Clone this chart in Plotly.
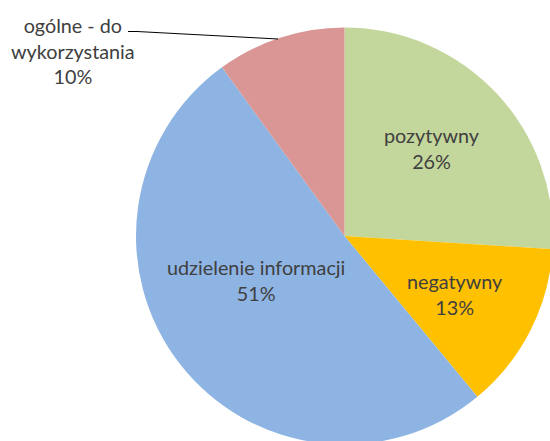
import plotly.graph_objects as go

# ---- data ----
labels = ["pozytywny", "negatywny", "udzielenie informacji", "ogólne - do wykorzystania"]
values = [26, 13, 51, 10]
colors = ["#C3D69B", "#FFC000", "#8EB4E3", "#D99694"]

# ---- canvas geometry (pie is partly clipped by the window, as in the reference) ----
W, H = 560, 450
cx, cy, r = 344.5, 236.0, 208.5


def px(x):
    return x / W


def py(y):
    return 1 - y / H


fig = go.Figure(
    go.Pie(
        labels=labels,
        values=values,
        sort=False,
        direction="clockwise",
        rotation=0,
        marker=dict(colors=colors, line=dict(width=0)),
        textinfo="none",
        hoverinfo="label+percent",
        showlegend=False,
        domain=dict(x=[px(cx - r), px(cx + r)], y=[py(cy + r), py(cy - r)]),
    )
)

# label positions (pixel targets)
label_pos = [(431.5, 148), (454.5, 294), (256, 280), (73, 51)]
font = dict(family="Lato, 'Noto Sans', sans-serif", size=19.8, color="#404040")
for lab, val, (x, y) in zip(labels, values, label_pos):
    txt = lab.replace(" - do ", " - do<br>") + "<br>" + f"{val}%"
    fig.add_annotation(
        x=px(x), y=py(y), xref="paper", yref="paper",
        text=txt, showarrow=False, font=font,
        xanchor="center", yanchor="middle", align="center",
    )

# leader line for the outside label
fig.add_shape(type="line", xref="paper", yref="paper",
              x0=px(128), y0=py(31.5), x1=px(137), y1=py(31.5),
              line=dict(color="#000000", width=1))
fig.add_shape(type="line", xref="paper", yref="paper",
              x0=px(137), y0=py(31.5), x1=px(278), y1=py(39),
              line=dict(color="#000000", width=1))

fig.update_layout(
    width=W, height=H,
    margin=dict(l=0, r=0, t=0, b=0),
    paper_bgcolor="white", plot_bgcolor="white",
)

fig.write_html(
    "out.html",
    config={"displayModeBar": False},
    post_script="document.body.style.margin='0';document.body.style.overflow='hidden';"
                "document.documentElement.style.overflow='hidden';",
)
